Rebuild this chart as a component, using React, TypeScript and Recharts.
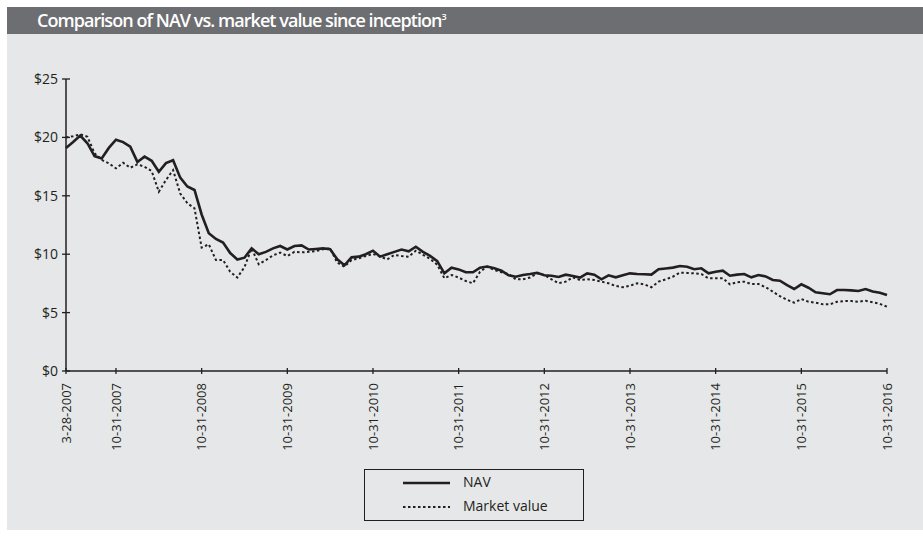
import React from 'react';
import { LineChart, Line, XAxis, YAxis } from 'recharts';

// month index 0 = 3-28-2007, then month ends through 10-31-2016
const navValues = [
  19.1, 19.6, 20.15, 19.5, 18.4, 18.2, 19.1, 19.8, 19.6, 19.2,
  17.9, 18.35, 18.0, 17.06, 17.8, 18.05, 16.55, 15.8, 15.5, 13.4,
  11.8, 11.3, 11.0, 10.1, 9.55, 9.7, 10.5, 10.0, 10.2, 10.5,
  10.7, 10.4, 10.7, 10.75, 10.4, 10.45, 10.5, 10.42, 9.56, 9.05,
  9.73, 9.79, 10.0, 10.3, 9.79, 10.0, 10.2, 10.4, 10.25, 10.64,
  10.2, 9.85, 9.4, 8.36, 8.84, 8.7, 8.45, 8.45, 8.85, 8.95,
  8.8, 8.59, 8.2, 8.07, 8.22, 8.3, 8.4, 8.2, 8.15, 8.05,
  8.25, 8.13, 8.0, 8.36, 8.25, 7.85, 8.19, 8.02, 8.2, 8.36,
  8.3, 8.28, 8.25, 8.71, 8.78, 8.85, 8.99, 8.93, 8.71, 8.79,
  8.36, 8.5, 8.59, 8.16, 8.25, 8.3, 8.02, 8.22, 8.1, 7.79,
  7.73, 7.35, 7.02, 7.42, 7.13, 6.74, 6.65, 6.57, 6.93, 6.93,
  6.9, 6.85, 7.02, 6.8, 6.7, 6.5,
];

const marketValues = [
  20.0, 20.1, 20.26, 20.06, 18.64, 18.07, 17.78, 17.35, 17.83, 17.4,
  17.7, 17.49, 17.12, 15.35, 16.35, 17.2, 15.2, 14.36, 13.93, 10.56,
  10.85, 9.5, 9.5, 8.5, 8.0, 8.9, 10.5, 9.13, 9.5, 9.9,
  10.13, 9.85, 10.2, 10.16, 10.2, 10.27, 10.42, 10.5, 9.27, 8.93,
  9.5, 9.65, 9.85, 10.02, 9.8, 9.56, 9.93, 9.85, 9.79, 10.3,
  9.95, 9.6, 9.1, 7.94, 8.22, 8.0, 7.7, 7.51, 8.5, 8.93,
  8.65, 8.45, 8.3, 7.85, 7.85, 8.0, 8.36, 8.22, 7.85, 7.51,
  7.65, 8.02, 7.79, 7.85, 7.79, 7.65, 7.51, 7.28, 7.17, 7.3,
  7.51, 7.42, 7.17, 7.65, 7.85, 8.07, 8.42, 8.4, 8.36, 8.3,
  7.94, 7.94, 7.94, 7.42, 7.6, 7.65, 7.45, 7.45, 7.17, 6.8,
  6.4, 6.1, 5.85, 6.16, 5.93, 5.85, 5.71, 5.71, 5.93, 5.99,
  5.99, 5.93, 6.02, 5.88, 5.75, 5.5,
];

const dateTicks = [0, 7, 19, 31, 43, 55, 67, 79, 91, 103, 115];
const dateLabels = [
  '3-28-2007', '10-31-2007', '10-31-2008', '10-31-2009', '10-31-2010', '10-31-2011',
  '10-31-2012', '10-31-2013', '10-31-2014', '10-31-2015', '10-31-2016',
];
const valueTicks = [0, 5, 10, 15, 20, 25];

const data = navValues.map((nav, i) => ({ month: i, nav, market: marketValues[i] }));

const INK = '#231f20';
const FONT = '"Open Sans", sans-serif';

const YTick = (props: any) => {
  const { x, y, payload } = props;
  return (
    <g>
      <line x1={x - 4} x2={x + 4} y1={y} y2={y} stroke={INK} strokeWidth={1.3} />
      <text x={x - 8} y={y} dy="0.35em" textAnchor="end" fontSize={14} fill={INK} fontFamily={FONT}>
        ${payload.value}
      </text>
    </g>
  );
};

const XTick = (props: any) => {
  const { x, y, payload } = props;
  const label = dateLabels[dateTicks.indexOf(payload.value)];
  return (
    <g>
      <line x1={x} x2={x} y1={y - 3} y2={y + 3} stroke={INK} strokeWidth={1.3} />
      <text
        x={x}
        y={y + 12}
        dy="0.35em"
        textAnchor="end"
        transform={`rotate(-90 ${x} ${y + 12})`}
        fontSize={13}
        fill={INK}
        fontFamily={FONT}
      >
        {label}
      </text>
    </g>
  );
};

export default function App() {
  return (
    <div style={{ position: 'absolute', left: 0, top: 0, width: 923, height: 537, background: '#fff', fontFamily: FONT }}>
      <div style={{ position: 'absolute', left: 7, top: 7, width: 916, height: 27, background: '#6d6e71' }}>
        <div style={{ position: 'absolute', left: 30, top: 1, color: '#fff', fontSize: 18, fontWeight: 600, letterSpacing: -0.95, whiteSpace: 'nowrap' }}>
          Comparison of NAV vs. market value since inception<sup style={{ fontSize: 9 }}>3</sup>
        </div>
      </div>
      <div style={{ position: 'absolute', left: 7, top: 34, width: 916, height: 496, background: '#e6e7e8' }} />

      <div style={{ position: 'absolute', left: 0, top: 0 }}>
        <LineChart width={923} height={470} data={data} margin={{ top: 79, right: 36, bottom: 9, left: 6 }}>
          <XAxis
            dataKey="month"
            type="number"
            domain={[0, 115]}
            ticks={dateTicks}
            interval={0}
            height={90}
            tickLine={false}
            tickSize={0}
            tickMargin={0}
            axisLine={{ stroke: INK, strokeWidth: 1.5 }}
            tick={<XTick />}
          />
          <YAxis
            type="number"
            domain={[0, 25]}
            ticks={valueTicks}
            width={60}
            tickLine={false}
            tickSize={0}
            tickMargin={0}
            axisLine={{ stroke: INK, strokeWidth: 1.5 }}
            tick={<YTick />}
          />
          <Line type="linear" dataKey="market" stroke={INK} strokeWidth={2} strokeDasharray="2.5 2.5" dot={false} isAnimationActive={false} />
          <Line type="linear" dataKey="nav" stroke={INK} strokeWidth={2.6} dot={false} isAnimationActive={false} />
        </LineChart>
      </div>

      <div style={{ position: 'absolute', left: 364, top: 469, width: 218, height: 50, border: `1.5px solid ${INK}` }}>
        <svg width={60} height={50} style={{ position: 'absolute', left: 36, top: 0 }}>
          <line x1={2} x2={49} y1={13} y2={13} stroke={INK} strokeWidth={2.6} />
          <line x1={2} x2={49} y1={37} y2={37} stroke={INK} strokeWidth={2} strokeDasharray="2.5 2.5" />
        </svg>
        <div style={{ position: 'absolute', left: 98, top: 2, fontSize: 14, color: INK }}>NAV</div>
        <div style={{ position: 'absolute', left: 98, top: 26, fontSize: 14, color: INK }}>Market value</div>
      </div>
    </div>
  );
}
